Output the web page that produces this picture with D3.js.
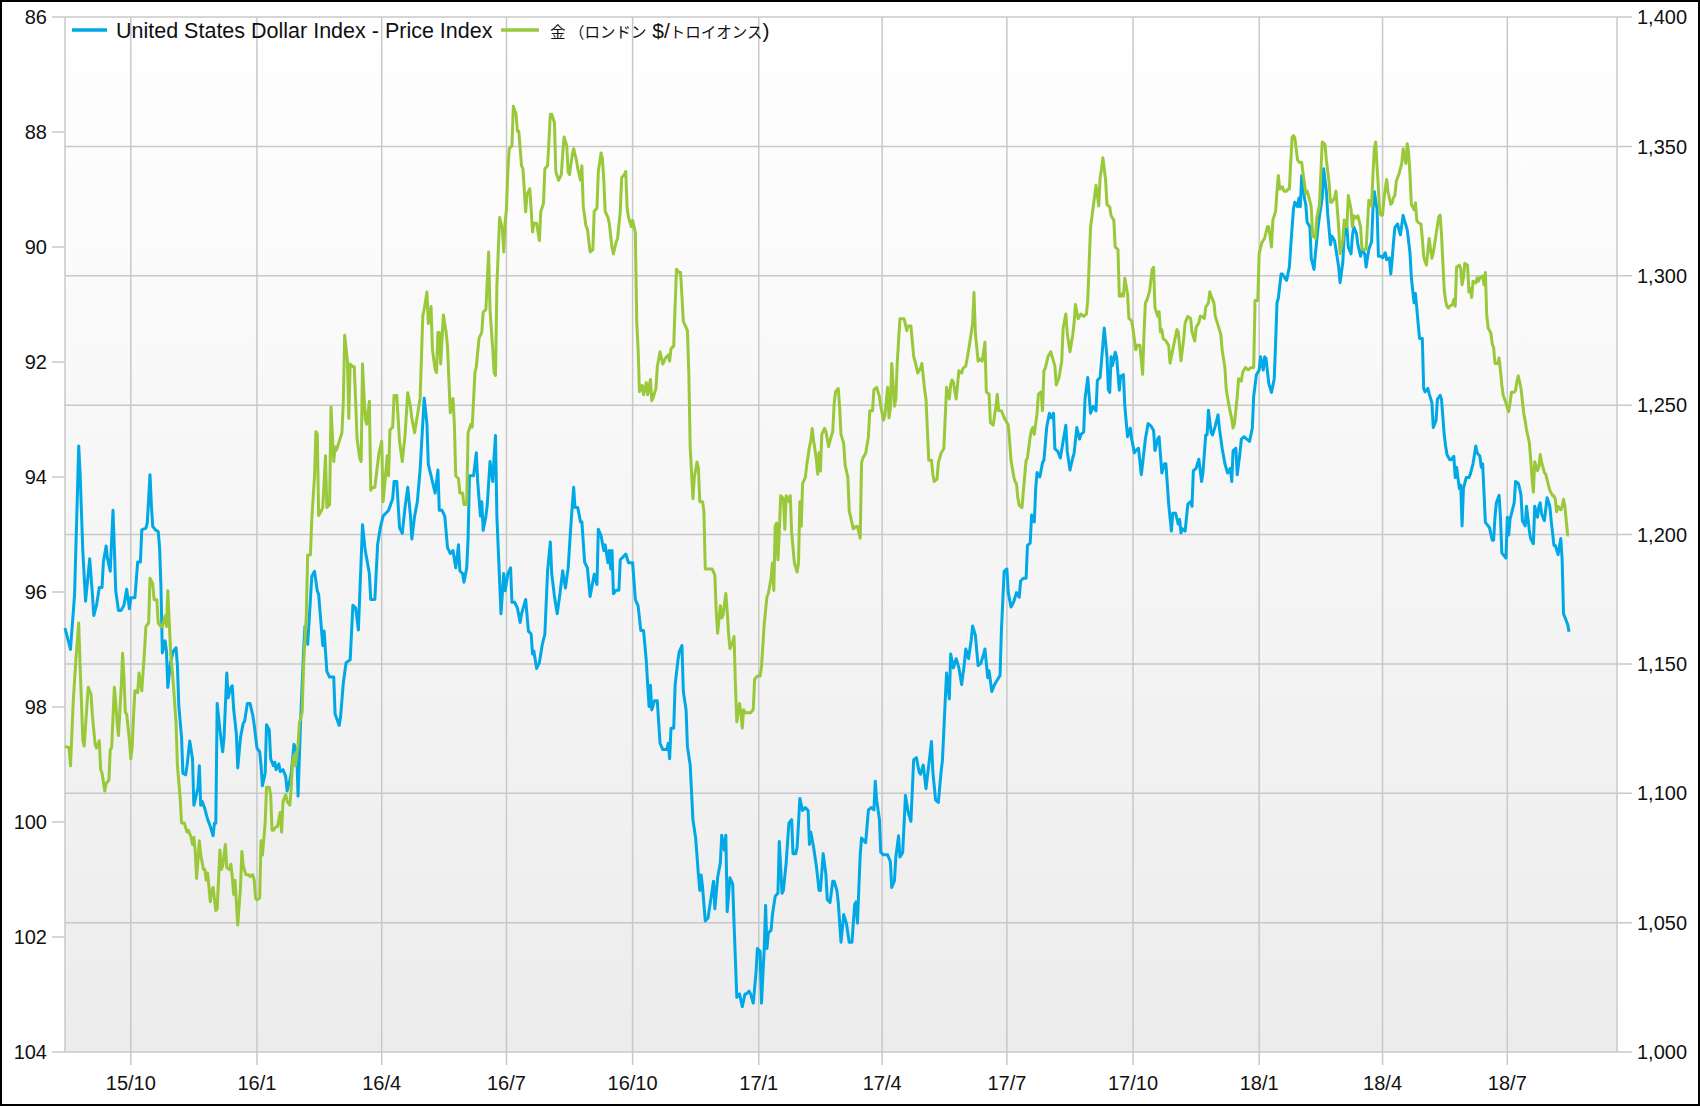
<!DOCTYPE html>
<html>
<head>
<meta charset="utf-8">
<script src="https://cdn.jsdelivr.net/npm/d3@7.9.0/dist/d3.min.js"></script>
<style>
  html, body { margin: 0; padding: 0; background: #fff; }
  svg { display: block; }
  text { font-family: "Liberation Sans", Arial, sans-serif; fill: #111; }
</style>
</head>
<body>
<svg id="chart" width="1700" height="1106"></svg>
<script>
// series names as shown in the legend
const usdName = 'United States Dollar Index - Price Index';
const goldName = ['金 （ロンドン', ' $/', 'トロイオンス', ')'];

const usdTicks = [86, 88, 90, 92, 94, 96, 98, 100, 102, 104];
const goldTicks = [1000, 1050, 1100, 1150, 1200, 1250, 1300, 1350, 1400];

// US dollar index (left axis, inverted)
const usdSeries = [
['2015-08-14',96.63],['2015-08-18',97.00],['2015-08-21',96.04],['2015-08-24',93.46],['2015-08-25',93.93],['2015-08-27',95.29],['2015-08-29',96.16],['2015-08-30',95.92],
['2015-09-01',95.42],['2015-09-03',96.04],['2015-09-04',96.41],['2015-09-06',96.23],['2015-09-08',95.92],['2015-09-10',95.92],['2015-09-11',95.48],['2015-09-13',95.20],['2015-09-14',95.42],['2015-09-16',95.64],['2015-09-18',94.58],['2015-09-19',95.23],['2015-09-20',95.98],['2015-09-22',96.32],['2015-09-24',96.32],['2015-09-26',96.23],['2015-09-28',95.95],['2015-09-30',96.29],
['2015-10-01',96.10],['2015-10-04',96.10],['2015-10-06',95.48],['2015-10-08',95.48],['2015-10-09',94.92],['2015-10-12',94.89],['2015-10-13',94.80],['2015-10-15',93.96],['2015-10-16',94.49],['2015-10-17',94.86],['2015-10-19',94.92],['2015-10-21',94.95],['2015-10-22',95.23],['2015-10-23',95.92],['2015-10-24',97.06],['2015-10-26',96.85],['2015-10-27',97.03],['2015-10-28',97.66],['2015-10-30',97.22],
['2015-11-01',97.03],['2015-11-03',96.97],['2015-11-04',97.28],['2015-11-05',97.97],['2015-11-07',98.53],['2015-11-08',99.15],['2015-11-10',99.18],['2015-11-11',99.02],['2015-11-13',98.59],['2015-11-15',98.90],['2015-11-16',99.71],['2015-11-17',99.61],['2015-11-19',99.40],['2015-11-20',99.02],['2015-11-21',99.71],['2015-11-22',99.64],['2015-11-24',99.77],['2015-11-26',99.95],['2015-11-28',100.08],['2015-11-30',100.24],
['2015-12-01',100.02],['2015-12-02',100.02],['2015-12-03',97.94],['2015-12-05',98.40],['2015-12-07',98.78],['2015-12-08',98.53],['2015-12-10',97.41],['2015-12-11',97.84],['2015-12-13',97.66],['2015-12-14',97.63],['2015-12-15',98.03],['2015-12-17',98.47],['2015-12-18',99.06],['2015-12-20',98.53],['2015-12-22',98.28],['2015-12-23',98.25],['2015-12-25',97.94],['2015-12-27',97.94],['2015-12-29',98.15],['2015-12-30',98.31],
['2016-01-01',98.71],['2016-01-03',98.78],['2016-01-04',99.02],['2016-01-05',99.37],['2016-01-07',99.15],['2016-01-08',98.31],['2016-01-10',98.40],['2016-01-11',98.90],['2016-01-13',99.02],['2016-01-14',98.96],['2016-01-15',99.09],['2016-01-17',98.99],['2016-01-18',99.12],['2016-01-20',99.09],['2016-01-22',99.21],['2016-01-23',99.46],['2016-01-25',99.27],['2016-01-26',99.15],['2016-01-28',98.65],['2016-01-30',98.78],['2016-01-31',99.55],
['2016-02-01',98.84],['2016-02-02',98.15],['2016-02-04',97.03],['2016-02-05',96.60],['2016-02-07',96.91],['2016-02-09',96.13],['2016-02-10',95.73],['2016-02-12',95.64],['2016-02-14',95.98],['2016-02-15',96.04],['2016-02-18',96.93],['2016-02-19',96.68],['2016-02-21',97.38],['2016-02-23',97.48],['2016-02-26',97.48],['2016-02-27',98.12],
['2016-03-01',98.32],['2016-03-02',98.17],['2016-03-04',97.58],['2016-03-06',97.23],['2016-03-09',97.18],['2016-03-11',96.23],['2016-03-13',96.28],['2016-03-15',96.66],['2016-03-18',94.83],['2016-03-20',95.28],['2016-03-23',95.68],['2016-03-24',96.13],['2016-03-27',96.13],['2016-03-29',95.18],['2016-03-31',94.88],
['2016-04-02',94.68],['2016-04-04',94.63],['2016-04-06',94.58],['2016-04-09',94.38],['2016-04-10',94.08],['2016-04-12',94.08],['2016-04-14',94.88],['2016-04-16',94.98],['2016-04-18',94.53],['2016-04-20',94.18],['2016-04-22',94.68],['2016-04-23',95.08],['2016-04-25',94.68],['2016-04-27',94.43],['2016-04-29',93.88],
['2016-05-02',92.63],['2016-05-04',93.08],['2016-05-05',93.78],['2016-05-08',94.08],['2016-05-10',94.28],['2016-05-12',93.88],['2016-05-13',94.58],['2016-05-15',94.58],['2016-05-17',94.68],['2016-05-19',95.23],['2016-05-21',95.33],['2016-05-23',95.28],['2016-05-25',95.58],['2016-05-27',95.18],['2016-05-28',95.63],['2016-05-30',95.68],['2016-05-31',95.83],
['2016-06-02',95.58],['2016-06-03',95.08],['2016-06-04',93.98],['2016-06-07',93.98],['2016-06-09',93.58],['2016-06-10',94.08],['2016-06-12',94.68],['2016-06-13',94.43],['2016-06-14',94.93],['2016-06-16',94.68],['2016-06-17',94.48],['2016-06-19',93.73],['2016-06-21',94.08],['2016-06-22',93.63],['2016-06-23',93.28],['2016-06-24',94.68],['2016-06-27',96.38],['2016-06-29',95.68],['2016-06-30',95.98],
['2016-07-02',95.68],['2016-07-04',95.58],['2016-07-05',96.18],['2016-07-07',96.18],['2016-07-09',96.28],['2016-07-11',96.53],['2016-07-12',96.38],['2016-07-15',96.13],['2016-07-17',96.68],['2016-07-19',96.73],['2016-07-20',97.08],['2016-07-21',97.03],['2016-07-23',97.33],['2016-07-25',97.23],['2016-07-27',96.93],['2016-07-29',96.73],['2016-07-31',95.63],
['2016-08-02',95.13],['2016-08-03',95.68],['2016-08-05',96.08],['2016-08-07',96.38],['2016-08-09',96.03],['2016-08-11',95.63],['2016-08-13',95.93],['2016-08-15',95.58],['2016-08-17',94.83],['2016-08-19',94.18],['2016-08-20',94.53],['2016-08-22',94.53],['2016-08-24',94.78],['2016-08-25',94.78],['2016-08-27',95.48],['2016-08-29',95.58],['2016-08-31',96.08],
['2016-09-03',95.69],['2016-09-05',95.87],['2016-09-06',94.91],['2016-09-08',95.02],['2016-09-10',95.28],['2016-09-11',95.18],['2016-09-13',95.49],['2016-09-14',95.28],['2016-09-15',95.60],['2016-09-16',95.28],['2016-09-17',96.03],['2016-09-19',95.97],['2016-09-21',95.97],['2016-09-22',95.44],['2016-09-24',95.39],['2016-09-26',95.34],['2016-09-28',95.49],['2016-09-30',95.49],
['2016-10-01',95.49],['2016-10-03',96.13],['2016-10-05',96.24],['2016-10-07',96.67],['2016-10-09',96.67],['2016-10-11',97.20],['2016-10-12',97.62],['2016-10-13',97.99],['2016-10-14',97.62],['2016-10-15',98.05],['2016-10-17',97.89],['2016-10-19',97.89],['2016-10-21',98.63],['2016-10-23',98.74],['2016-10-26',98.74],['2016-10-27',98.63],['2016-10-28',98.90],['2016-10-29',98.37],['2016-10-31',98.37],
['2016-11-01',97.62],['2016-11-03',97.20],['2016-11-04',97.04],['2016-11-06',96.93],['2016-11-07',97.73],['2016-11-09',98.05],['2016-11-10',98.69],['2016-11-12',99.01],['2016-11-14',99.96],['2016-11-16',100.28],['2016-11-18',100.92],['2016-11-19',101.19],['2016-11-20',100.92],['2016-11-21',101.13],['2016-11-23',101.72],['2016-11-25',101.67],['2016-11-27',101.35],['2016-11-29',101.03],['2016-11-30',101.51],
['2016-12-02',100.97],['2016-12-04',100.71],['2016-12-05',100.23],['2016-12-07',100.49],['2016-12-08',100.23],['2016-12-09',101.56],['2016-12-11',100.97],['2016-12-13',101.08],['2016-12-14',101.77],['2016-12-16',103.05],['2016-12-18',102.99],['2016-12-20',103.21],['2016-12-22',102.99],['2016-12-23',102.99],['2016-12-25',102.94],['2016-12-26',102.99],['2016-12-28',103.15],['2016-12-30',102.62],['2016-12-31',102.20],
['2017-01-02',102.25],['2017-01-03',103.15],['2017-01-05',102.20],['2017-01-06',101.45],['2017-01-07',102.20],['2017-01-08',101.93],['2017-01-10',101.88],['2017-01-11',101.61],['2017-01-13',101.29],['2017-01-15',101.24],['2017-01-16',100.34],['2017-01-18',101.24],['2017-01-19',101.19],['2017-01-21',100.71],['2017-01-23',100.02],['2017-01-25',99.96],['2017-01-26',100.55],['2017-01-28',100.55],['2017-01-29',100.44],['2017-01-30',100.02],['2017-01-31',99.59],
['2017-02-02',99.80],['2017-02-04',99.75],['2017-02-06',99.80],['2017-02-07',100.39],['2017-02-08',100.18],['2017-02-10',100.44],['2017-02-12',100.76],['2017-02-14',101.19],['2017-02-15',101.19],['2017-02-17',100.55],['2017-02-19',100.92],['2017-02-20',101.35],['2017-02-22',101.40],['2017-02-24',101.03],['2017-02-25',101.03],['2017-02-27',101.19],['2017-02-28',101.40],
['2017-03-02',102.09],['2017-03-04',101.61],['2017-03-06',101.77],['2017-03-08',102.09],['2017-03-10',102.09],['2017-03-12',101.43],['2017-03-13',101.39],['2017-03-14',101.76],['2017-03-16',100.57],['2017-03-17',100.28],['2017-03-20',100.36],['2017-03-22',99.79],['2017-03-24',99.75],['2017-03-26',99.79],['2017-03-27',99.29],['2017-03-28',99.62],['2017-03-30',99.95],['2017-03-31',100.53],
['2017-04-02',100.57],['2017-04-05',100.57],['2017-04-07',100.69],['2017-04-08',101.14],['2017-04-10',101.02],['2017-04-11',100.61],['2017-04-13',100.24],['2017-04-14',100.61],['2017-04-16',100.53],['2017-04-18',99.54],['2017-04-20',99.83],['2017-04-22',99.99],['2017-04-24',98.92],['2017-04-26',98.88],['2017-04-28',99.13],['2017-04-29',99.17],
['2017-05-01',99.01],['2017-05-03',99.42],['2017-05-05',99.01],['2017-05-07',98.60],['2017-05-08',99.13],['2017-05-10',99.62],['2017-05-12',99.66],['2017-05-14',99.13],['2017-05-15',98.92],['2017-05-17',97.90],['2017-05-18',97.41],['2017-05-20',97.86],['2017-05-21',97.08],['2017-05-23',97.32],['2017-05-25',97.16],['2017-05-27',97.32],['2017-05-29',97.61],['2017-05-31',97.24],
['2017-06-01',96.99],['2017-06-03',97.16],['2017-06-05',96.83],['2017-06-06',96.59],['2017-06-08',96.75],['2017-06-10',97.28],['2017-06-12',97.24],['2017-06-14',97.08],['2017-06-15',96.99],['2017-06-17',97.49],['2017-06-18',97.37],['2017-06-20',97.73],['2017-06-22',97.61],['2017-06-24',97.53],['2017-06-26',97.45],['2017-06-27',96.67],['2017-06-29',95.64],
['2017-07-01',95.60],['2017-07-02',96.01],['2017-07-04',96.26],['2017-07-06',96.17],['2017-07-08',96.01],['2017-07-10',96.09],['2017-07-11',95.81],['2017-07-13',95.76],['2017-07-15',95.76],['2017-07-16',95.19],['2017-07-18',95.15],['2017-07-19',94.66],['2017-07-21',94.78],['2017-07-22',94.20],['2017-07-23',93.92],['2017-07-25',94.00],['2017-07-27',93.75],['2017-07-28',93.71],['2017-07-30',93.14],
['2017-08-01',92.89],['2017-08-02',92.97],['2017-08-04',92.89],['2017-08-05',93.51],['2017-08-07',93.55],['2017-08-09',93.67],['2017-08-11',93.38],['2017-08-13',93.10],['2017-08-14',93.55],['2017-08-16',93.88],['2017-08-18',93.67],['2017-08-19',93.59],['2017-08-21',93.14],['2017-08-23',93.34],['2017-08-24',93.26],['2017-08-26',93.22],['2017-08-27',92.64],['2017-08-29',92.27],['2017-08-31',92.89],
['2017-09-02',92.77],['2017-09-04',92.85],['2017-09-05',92.32],['2017-09-07',92.27],['2017-09-10',91.41],['2017-09-12',91.91],['2017-09-13',92.48],['2017-09-14',92.53],['2017-09-15',91.91],['2017-09-16',92.06],['2017-09-18',91.83],['2017-09-19',91.91],['2017-09-21',92.49],['2017-09-22',92.25],['2017-09-24',92.22],['2017-09-25',92.76],['2017-09-27',93.30],['2017-09-29',93.15],['2017-09-30',93.34],
['2017-10-02',93.58],['2017-10-03',93.54],['2017-10-05',93.50],['2017-10-07',93.96],['2017-10-08',93.77],['2017-10-10',93.34],['2017-10-12',93.07],['2017-10-14',93.11],['2017-10-16',93.19],['2017-10-17',93.54],['2017-10-19',93.34],['2017-10-20',93.30],['2017-10-22',93.93],['2017-10-24',93.77],['2017-10-25',93.77],['2017-10-27',94.47],['2017-10-29',94.94],['2017-10-30',94.63],
['2017-11-01',94.63],['2017-11-03',94.82],['2017-11-04',94.74],['2017-11-05',94.97],['2017-11-06',94.90],['2017-11-08',94.94],['2017-11-10',94.47],['2017-11-12',94.43],['2017-11-13',94.51],['2017-11-14',93.89],['2017-11-16',93.85],['2017-11-18',93.69],['2017-11-20',94.08],['2017-11-21',93.93],['2017-11-23',93.27],['2017-11-24',93.27],['2017-11-25',92.84],['2017-11-27',93.23],['2017-11-28',93.27],['2017-11-30',93.11],
['2017-12-02',92.92],['2017-12-03',93.15],['2017-12-05',93.50],['2017-12-07',93.77],['2017-12-09',93.93],['2017-12-11',93.85],['2017-12-12',94.08],['2017-12-13',93.54],['2017-12-15',93.50],['2017-12-16',93.96],['2017-12-18',93.58],['2017-12-19',93.34],['2017-12-21',93.30],['2017-12-23',93.34],['2017-12-25',93.38],['2017-12-27',93.15],['2017-12-28',92.60],['2017-12-30',92.22],
['2018-01-01',92.14],['2018-01-02',91.91],['2018-01-04',92.14],['2018-01-05',91.91],['2018-01-06',91.94],['2018-01-08',92.37],['2018-01-10',92.53],['2018-01-12',92.29],['2018-01-13',91.67],['2018-01-14',90.97],['2018-01-15',90.89],['2018-01-17',90.47],['2018-01-18',90.47],['2018-01-20',90.55],['2018-01-21',90.58],['2018-01-23',90.35],['2018-01-24',90.00],['2018-01-26',89.34],['2018-01-27',89.22],['2018-01-29',89.30],['2018-01-30',89.15],['2018-01-31',89.30],
['2018-02-01',88.76],['2018-02-03',89.15],['2018-02-04',89.26],['2018-02-05',89.57],['2018-02-07',89.65],['2018-02-08',90.20],['2018-02-10',90.39],['2018-02-11',90.12],['2018-02-13',89.65],['2018-02-14',89.46],['2018-02-16',89.15],['2018-02-17',88.64],['2018-02-19',89.03],['2018-02-20',89.42],['2018-02-22',89.96],['2018-02-23',89.81],['2018-02-25',89.89],['2018-02-26',90.04],['2018-02-28',90.35],
['2018-03-01',90.62],['2018-03-03',90.27],['2018-03-04',89.81],['2018-03-06',89.65],['2018-03-07',90.00],['2018-03-09',90.12],['2018-03-10',89.81],['2018-03-11',89.65],['2018-03-13',89.77],['2018-03-14',89.96],['2018-03-16',90.16],['2018-03-17',90.04],['2018-03-19',90.12],['2018-03-20',90.35],['2018-03-22',90.04],['2018-03-24',89.91],['2018-03-25',89.35],['2018-03-26',89.04],['2018-03-28',89.35],['2018-03-29',90.16],['2018-03-31',90.16],
['2018-04-01',90.19],['2018-04-03',90.10],['2018-04-04',90.22],['2018-04-06',90.19],['2018-04-07',90.47],['2018-04-08',90.22],['2018-04-09',89.91],['2018-04-10',89.66],['2018-04-12',89.60],['2018-04-13',89.70],['2018-04-14',89.79],['2018-04-16',89.45],['2018-04-17',89.54],['2018-04-19',89.70],['2018-04-21',90.10],['2018-04-22',90.53],['2018-04-24',90.97],['2018-04-25',90.81],['2018-04-27',91.34],['2018-04-28',91.59],['2018-04-30',91.59],
['2018-05-01',92.46],['2018-05-02',92.52],['2018-05-04',92.46],['2018-05-05',92.55],['2018-05-07',92.71],['2018-05-08',93.14],['2018-05-10',93.02],['2018-05-11',92.65],['2018-05-13',92.58],['2018-05-14',92.65],['2018-05-16',93.27],['2018-05-17',93.46],['2018-05-18',93.61],['2018-05-20',93.70],['2018-05-21',93.70],['2018-05-23',93.64],['2018-05-24',94.01],['2018-05-25',93.83],['2018-05-27',94.20],['2018-05-28',94.14],['2018-05-29',94.85],['2018-05-30',94.20],
['2018-06-01',94.01],['2018-06-03',94.01],['2018-06-04',93.95],['2018-06-06',93.77],['2018-06-08',93.46],['2018-06-09',93.58],['2018-06-11',93.64],['2018-06-12',93.83],['2018-06-13',93.77],['2018-06-15',94.79],['2018-06-17',94.85],['2018-06-18',94.88],['2018-06-20',95.10],['2018-06-21',95.10],['2018-06-22',94.70],['2018-06-23',94.45],['2018-06-25',94.32],['2018-06-26',94.70],['2018-06-27',95.32],['2018-06-29',95.38],['2018-06-30',95.41],
['2018-07-01',94.70],['2018-07-02',95.01],['2018-07-03',94.73],['2018-07-04',94.64],['2018-07-06',94.45],['2018-07-07',94.08],['2018-07-09',94.11],['2018-07-10',94.20],['2018-07-11',94.32],['2018-07-12',94.76],['2018-07-14',94.85],['2018-07-15',94.51],['2018-07-17',94.92],['2018-07-18',95.07],['2018-07-20',95.16],['2018-07-21',94.51],['2018-07-23',94.70],['2018-07-24',94.51],['2018-07-25',94.45],['2018-07-26',94.64],['2018-07-28',94.76],['2018-07-29',94.57],['2018-07-30',94.36],
['2018-08-01',94.51],['2018-08-02',94.76],['2018-08-04',95.19],['2018-08-05',95.19],['2018-08-07',95.35],['2018-08-09',95.07],['2018-08-10',95.44],['2018-08-11',96.38],['2018-08-12',96.44],['2018-08-14',96.56],['2018-08-15',96.69]
];

// gold, London fix, USD per troy ounce (right axis)
const goldSeries = [
['2015-08-14',1118.2],['2015-08-17',1117.5],['2015-08-18',1110.6],['2015-08-20',1135.4],['2015-08-22',1152.0],['2015-08-24',1165.8],['2015-08-25',1149.3],['2015-08-26',1135.4],['2015-08-27',1120.3],['2015-08-28',1118.2],['2015-08-30',1134.1],['2015-08-31',1141.0],
['2015-09-02',1138.2],['2015-09-03',1129.9],['2015-09-05',1118.9],['2015-09-06',1117.5],['2015-09-08',1120.3],['2015-09-09',1109.2],['2015-09-10',1107.8],['2015-09-12',1100.9],['2015-09-13',1103.7],['2015-09-15',1105.1],['2015-09-16',1116.8],['2015-09-17',1117.5],['2015-09-19',1141.0],['2015-09-20',1135.4],['2015-09-21',1127.2],['2015-09-22',1122.3],['2015-09-24',1141.0],['2015-09-25',1154.1],['2015-09-26',1145.1],['2015-09-27',1131.3],['2015-09-28',1130.6],['2015-09-30',1120.3],
['2015-10-01',1113.3],['2015-10-02',1118.2],['2015-10-03',1129.9],['2015-10-04',1139.6],['2015-10-06',1138.9],['2015-10-07',1146.5],['2015-10-08',1143.0],['2015-10-09',1139.6],['2015-10-11',1154.8],['2015-10-12',1164.4],['2015-10-14',1165.8],['2015-10-15',1183.1],['2015-10-17',1181.0],['2015-10-18',1174.8],['2015-10-20',1174.8],['2015-10-21',1165.8],['2015-10-23',1164.4],['2015-10-24',1164.4],['2015-10-26',1168.6],['2015-10-27',1164.4],['2015-10-28',1178.3],['2015-10-30',1154.8],
['2015-11-01',1142.4],['2015-11-03',1127.2],['2015-11-04',1110.6],['2015-11-06',1098.2],['2015-11-07',1088.5],['2015-11-09',1088.5],['2015-11-11',1085.0],['2015-11-12',1085.7],['2015-11-14',1083.0],['2015-11-15',1080.2],['2015-11-16',1083.0],['2015-11-17',1077.5],['2015-11-18',1067.1],['2015-11-20',1081.6],['2015-11-21',1076.1],['2015-11-23',1070.5],['2015-11-24',1070.5],['2015-11-25',1066.4],['2015-11-26',1069.2],['2015-11-28',1058.1],['2015-11-29',1062.3],['2015-11-30',1063.6],
['2015-12-02',1054.7],['2015-12-03',1055.3],['2015-12-05',1078.1],['2015-12-06',1070.5],['2015-12-07',1071.9],['2015-12-09',1080.2],['2015-12-10',1071.2],['2015-12-12',1070.5],['2015-12-13',1072.6],['2015-12-14',1067.8],['2015-12-15',1060.9],['2015-12-16',1066.4],['2015-12-18',1049.1],['2015-12-20',1063.6],['2015-12-21',1077.5],['2015-12-22',1071.9],['2015-12-24',1068.5],['2015-12-26',1068.5],['2015-12-27',1067.8],['2015-12-29',1068.5],['2015-12-30',1066.4],['2015-12-31',1059.5],
['2016-01-01',1058.8],['2016-01-03',1059.5],['2016-01-04',1081.6],['2016-01-05',1076.1],['2016-01-07',1088.5],['2016-01-08',1102.3],['2016-01-10',1102.3],['2016-01-11',1099.5],['2016-01-12',1085.7],['2016-01-13',1085.7],['2016-01-15',1087.1],['2016-01-16',1087.1],['2016-01-18',1092.6],['2016-01-19',1085.0],['2016-01-20',1096.8],['2016-01-22',1099.5],['2016-01-23',1096.8],['2016-01-25',1095.4],['2016-01-26',1102.3],['2016-01-27',1112.0],['2016-01-28',1114.7],['2016-01-29',1110.6],['2016-01-31',1118.9],
['2016-02-01',1127.2],['2016-02-03',1131.3],['2016-02-04',1149.3],['2016-02-06',1168.6],['2016-02-07',1192.1],['2016-02-09',1192.1],['2016-02-10',1205.9],['2016-02-12',1222.5],['2016-02-13',1239.7],['2016-02-14',1239.0],['2016-02-15',1207.3],['2016-02-17',1209.3],['2016-02-18',1210.4],['2016-02-20',1230.4],['2016-02-21',1210.4],['2016-02-23',1211.6],['2016-02-24',1249.3],['2016-02-26',1228.2],['2016-02-27',1233.8],['2016-02-28',1232.6],
['2016-03-01',1236.0],['2016-03-03',1239.3],['2016-03-04',1251.5],['2016-03-05',1277.0],['2016-03-07',1267.0],['2016-03-08',1244.8],['2016-03-09',1265.9],['2016-03-11',1264.8],['2016-03-12',1264.8],['2016-03-13',1251.5],['2016-03-14',1237.1],['2016-03-16',1229.3],['2016-03-17',1228.2],['2016-03-18',1265.9],['2016-03-19',1254.8],['2016-03-20',1244.8],['2016-03-21',1242.6],['2016-03-23',1251.5],['2016-03-24',1217.1],['2016-03-25',1218.2],['2016-03-27',1218.2],['2016-03-28',1222.7],['2016-03-30',1231.5],
['2016-04-01',1236.0],['2016-04-02',1212.7],['2016-04-03',1218.2],['2016-04-05',1230.4],['2016-04-06',1222.7],['2016-04-07',1240.4],['2016-04-09',1241.5],['2016-04-10',1253.7],['2016-04-12',1253.7],['2016-04-14',1236.0],['2016-04-16',1228.2],['2016-04-18',1238.2],['2016-04-20',1254.8],['2016-04-22',1249.3],['2016-04-23',1244.8],['2016-04-25',1239.3],['2016-04-27',1245.9],['2016-04-29',1252.6],
['2016-05-01',1284.8],['2016-05-02',1287.0],['2016-05-04',1293.7],['2016-05-05',1281.5],['2016-05-07',1288.1],['2016-05-08',1271.5],['2016-05-10',1263.7],['2016-05-11',1262.6],['2016-05-12',1278.1],['2016-05-13',1278.1],['2016-05-14',1265.9],['2016-05-16',1284.8],['2016-05-18',1278.1],['2016-05-19',1272.6],['2016-05-21',1247.1],['2016-05-23',1252.6],['2016-05-24',1242.6],['2016-05-25',1222.7],['2016-05-27',1221.5],['2016-05-28',1216.0],['2016-05-30',1216.0],['2016-05-31',1211.6],
['2016-06-02',1211.6],['2016-06-03',1239.3],['2016-06-05',1242.6],['2016-06-06',1241.5],['2016-06-08',1262.6],['2016-06-09',1264.8],['2016-06-11',1275.9],['2016-06-13',1278.1],['2016-06-14',1285.9],['2016-06-16',1287.0],['2016-06-18',1309.2],['2016-06-19',1287.0],['2016-06-21',1271.5],['2016-06-22',1262.6],['2016-06-23',1261.5],['2016-06-24',1295.9],['2016-06-26',1322.5],['2016-06-28',1318.1],['2016-06-29',1309.2],['2016-06-30',1320.3],
['2016-07-01',1325.8],['2016-07-02',1340.2],['2016-07-03',1349.1],['2016-07-05',1350.2],['2016-07-06',1365.5],['2016-07-08',1362.4],['2016-07-09',1355.8],['2016-07-10',1355.8],['2016-07-12',1342.5],['2016-07-13',1341.4],['2016-07-15',1324.7],['2016-07-16',1331.4],['2016-07-18',1333.6],['2016-07-19',1325.8],['2016-07-20',1316.9],['2016-07-21',1320.3],['2016-07-23',1320.3],['2016-07-25',1313.6],['2016-07-26',1324.7],['2016-07-28',1328.0],['2016-07-29',1341.4],['2016-07-31',1342.5],
['2016-08-02',1362.4],['2016-08-03',1362.4],['2016-08-05',1359.1],['2016-08-06',1340.2],['2016-08-08',1336.9],['2016-08-10',1339.1],['2016-08-11',1346.9],['2016-08-12',1353.6],['2016-08-14',1350.2],['2016-08-15',1340.2],['2016-08-16',1339.1],['2016-08-18',1346.9],['2016-08-19',1349.1],['2016-08-21',1344.7],['2016-08-22',1341.4],['2016-08-24',1336.9],['2016-08-25',1342.5],['2016-08-26',1326.9],['2016-08-28',1319.2],['2016-08-29',1318.1],['2016-08-31',1309.2],
['2016-09-02',1310.0],['2016-09-03',1324.9],['2016-09-05',1326.1],['2016-09-06',1340.3],['2016-09-08',1347.4],['2016-09-09',1345.0],['2016-09-10',1336.8],['2016-09-11',1324.9],['2016-09-13',1322.6],['2016-09-14',1320.2],['2016-09-16',1310.8],['2016-09-17',1308.4],['2016-09-19',1313.1],['2016-09-20',1314.3],['2016-09-22',1324.9],['2016-09-23',1337.9],['2016-09-25',1339.1],['2016-09-26',1340.3],['2016-09-27',1326.1],['2016-09-28',1322.6],['2016-09-30',1319.0],
['2016-10-01',1321.4],['2016-10-03',1316.7],['2016-10-04',1282.4],['2016-10-05',1271.8],['2016-10-06',1255.2],['2016-10-08',1257.6],['2016-10-09',1254.0],['2016-10-11',1258.7],['2016-10-12',1254.0],['2016-10-14',1259.9],['2016-10-15',1251.7],['2016-10-16',1252.9],['2016-10-18',1256.4],['2016-10-19',1264.7],['2016-10-21',1270.6],['2016-10-23',1265.9],['2016-10-24',1267.0],['2016-10-25',1268.2],['2016-10-27',1269.4],['2016-10-28',1267.0],['2016-10-29',1271.8],['2016-10-31',1272.9],
['2016-11-01',1288.3],['2016-11-02',1302.5],['2016-11-04',1301.3],['2016-11-05',1301.3],['2016-11-07',1282.4],['2016-11-08',1281.2],['2016-11-10',1278.8],['2016-11-11',1262.3],['2016-11-12',1233.9],['2016-11-14',1213.8],['2016-11-15',1222.1],['2016-11-17',1228.0],['2016-11-18',1225.7],['2016-11-19',1212.7],['2016-11-21',1212.7],['2016-11-22',1209.1],['2016-11-23',1186.7],['2016-11-26',1186.7],['2016-11-28',1186.7],['2016-11-30',1184.3],
['2016-12-01',1170.1],['2016-12-02',1161.8],['2016-12-04',1172.5],['2016-12-05',1167.7],['2016-12-06',1168.9],['2016-12-08',1177.2],['2016-12-09',1170.1],['2016-12-10',1161.8],['2016-12-11',1155.9],['2016-12-13',1158.3],['2016-12-14',1160.6],['2016-12-15',1141.8],['2016-12-16',1127.6],['2016-12-18',1134.7],['2016-12-19',1131.1],['2016-12-20',1125.2],['2016-12-21',1132.3],['2016-12-22',1131.1],['2016-12-24',1131.1],['2016-12-26',1131.1],['2016-12-28',1132.3],['2016-12-29',1144.1],['2016-12-31',1145.3],
['2017-01-02',1145.3],['2017-01-03',1148.8],['2017-01-05',1165.4],['2017-01-07',1176.0],['2017-01-08',1177.2],['2017-01-10',1183.1],['2017-01-11',1189.0],['2017-01-12',1178.4],['2017-01-13',1203.2],['2017-01-14',1204.4],['2017-01-15',1190.2],['2017-01-16',1200.8],['2017-01-17',1215.0],['2017-01-19',1213.8],['2017-01-20',1202.0],['2017-01-21',1215.0],['2017-01-23',1212.7],['2017-01-24',1215.0],['2017-01-25',1200.8],['2017-01-27',1189.0],['2017-01-29',1185.5],['2017-01-30',1189.0],['2017-01-31',1212.7],
['2017-02-01',1203.2],['2017-02-02',1219.8],['2017-02-04',1222.1],['2017-02-05',1226.8],['2017-02-07',1233.9],['2017-02-08',1236.3],['2017-02-09',1241.0],['2017-02-10',1236.3],['2017-02-12',1229.2],['2017-02-13',1223.3],['2017-02-14',1231.6],['2017-02-15',1224.5],['2017-02-16',1238.7],['2017-02-18',1241.0],['2017-02-19',1239.8],['2017-02-21',1233.9],['2017-02-22',1236.3],['2017-02-24',1239.8],['2017-02-25',1250.5],['2017-02-26',1255.2],['2017-02-28',1256.4],
['2017-03-01',1249.3],['2017-03-02',1238.7],['2017-03-04',1235.1],['2017-03-05',1226.8],['2017-03-07',1222.1],['2017-03-08',1209.1],['2017-03-09',1206.8],['2017-03-11',1202.2],['2017-03-13',1203.1],['2017-03-14',1203.1],['2017-03-16',1198.6],['2017-03-17',1227.7],['2017-03-18',1229.6],['2017-03-20',1231.4],['2017-03-22',1237.8],['2017-03-23',1247.8],['2017-03-25',1247.8],['2017-03-26',1256.0],['2017-03-28',1256.9],['2017-03-30',1253.3],['2017-03-31',1249.6],
['2017-04-02',1244.2],['2017-04-03',1246.0],['2017-04-05',1256.9],['2017-04-06',1245.1],['2017-04-07',1248.7],['2017-04-08',1266.1],['2017-04-10',1249.6],['2017-04-11',1252.4],['2017-04-12',1266.1],['2017-04-14',1283.4],['2017-04-16',1283.4],['2017-04-17',1283.4],['2017-04-19',1278.8],['2017-04-20',1280.6],['2017-04-22',1280.6],['2017-04-24',1268.8],['2017-04-25',1267.0],['2017-04-27',1262.4],['2017-04-29',1264.2],['2017-04-30',1266.1],
['2017-05-02',1256.0],['2017-05-03',1252.4],['2017-05-05',1228.7],['2017-05-07',1228.7],['2017-05-08',1223.2],['2017-05-09',1220.5],['2017-05-11',1221.4],['2017-05-12',1227.7],['2017-05-14',1231.4],['2017-05-16',1233.2],['2017-05-18',1256.9],['2017-05-20',1252.4],['2017-05-21',1257.8],['2017-05-22',1259.7],['2017-05-23',1258.8],['2017-05-25',1252.4],['2017-05-27',1263.3],['2017-05-29',1262.4],['2017-05-30',1264.2],
['2017-06-01',1265.1],['2017-06-02',1267.9],['2017-06-04',1274.3],['2017-06-06',1281.6],['2017-06-07',1293.5],['2017-06-08',1277.9],['2017-06-10',1267.0],['2017-06-11',1267.9],['2017-06-13',1267.0],['2017-06-15',1274.3],['2017-06-16',1255.1],['2017-06-18',1254.2],['2017-06-19',1243.3],['2017-06-21',1242.3],['2017-06-23',1249.6],['2017-06-24',1254.2],['2017-06-25',1247.8],['2017-06-27',1247.8],['2017-06-29',1245.1],['2017-06-30',1244.2],
['2017-07-02',1242.3],['2017-07-03',1236.0],['2017-07-04',1228.7],['2017-07-06',1222.3],['2017-07-07',1220.5],['2017-07-08',1219.5],['2017-07-09',1214.1],['2017-07-10',1211.3],['2017-07-12',1210.4],['2017-07-13',1216.8],['2017-07-15',1228.7],['2017-07-16',1229.6],['2017-07-18',1237.8],['2017-07-19',1240.5],['2017-07-20',1241.4],['2017-07-21',1238.7],['2017-07-23',1246.9],['2017-07-24',1254.2],['2017-07-26',1255.1],['2017-07-27',1247.8],['2017-07-28',1263.3],['2017-07-29',1264.2],['2017-07-31',1268.8],
['2017-08-02',1270.6],['2017-08-03',1268.8],['2017-08-05',1265.1],['2017-08-06',1257.8],['2017-08-08',1260.6],['2017-08-10',1267.0],['2017-08-11',1279.7],['2017-08-13',1285.2],['2017-08-14',1277.9],['2017-08-16',1270.6],['2017-08-18',1277.0],['2017-08-19',1281.6],['2017-08-20',1288.9],['2017-08-22',1283.4],['2017-08-24',1285.2],['2017-08-26',1284.3],['2017-08-28',1285.2],['2017-08-29',1290.7],['2017-08-31',1318.6],
['2017-09-04',1335.0],['2017-09-06',1327.0],['2017-09-07',1337.9],['2017-09-08',1341.3],['2017-09-09',1345.6],['2017-09-11',1337.0],['2017-09-12',1327.5],['2017-09-14',1326.6],['2017-09-15',1323.2],['2017-09-17',1321.5],['2017-09-18',1311.1],['2017-09-20',1310.2],['2017-09-21',1292.1],['2017-09-22',1292.1],['2017-09-23',1293.0],['2017-09-24',1292.1],['2017-09-25',1299.0],['2017-09-27',1293.0],['2017-09-28',1283.5],['2017-09-30',1282.6],
['2017-10-01',1279.2],['2017-10-03',1271.4],['2017-10-04',1273.1],['2017-10-06',1273.1],['2017-10-08',1261.9],['2017-10-09',1277.4],['2017-10-10',1289.5],['2017-10-11',1290.4],['2017-10-13',1293.8],['2017-10-15',1302.5],['2017-10-16',1303.3],['2017-10-17',1287.8],['2017-10-19',1284.3],['2017-10-20',1286.1],['2017-10-21',1278.3],['2017-10-22',1279.2],['2017-10-23',1275.7],['2017-10-25',1274.8],['2017-10-27',1273.1],['2017-10-28',1266.2],['2017-10-30',1271.4],['2017-10-31',1274.0],
['2017-11-02',1279.2],['2017-11-03',1278.3],['2017-11-05',1267.1],['2017-11-07',1275.7],['2017-11-08',1281.8],['2017-11-10',1284.3],['2017-11-12',1283.5],['2017-11-13',1278.3],['2017-11-15',1274.8],['2017-11-16',1280.0],['2017-11-18',1281.8],['2017-11-19',1284.3],['2017-11-20',1284.3],['2017-11-22',1283.5],['2017-11-23',1287.8],['2017-11-25',1289.5],['2017-11-26',1293.8],['2017-11-27',1292.1],['2017-11-29',1289.5],['2017-11-30',1284.3],
['2017-12-02',1280.9],['2017-12-04',1277.4],['2017-12-05',1271.4],['2017-12-07',1264.5],['2017-12-08',1255.9],['2017-12-10',1249.8],['2017-12-12',1244.6],['2017-12-13',1241.2],['2017-12-14',1242.9],['2017-12-16',1253.3],['2017-12-17',1260.2],['2017-12-19',1259.3],['2017-12-20',1262.8],['2017-12-22',1264.5],['2017-12-24',1263.6],['2017-12-26',1264.5],['2017-12-28',1264.5],['2017-12-29',1290.4],['2017-12-31',1290.4],
['2018-01-01',1308.5],['2018-01-03',1312.8],['2018-01-05',1314.5],['2018-01-07',1318.9],['2018-01-08',1318.9],['2018-01-10',1311.1],['2018-01-11',1321.5],['2018-01-13',1324.9],['2018-01-14',1332.7],['2018-01-15',1338.7],['2018-01-16',1333.5],['2018-01-18',1334.4],['2018-01-19',1332.7],['2018-01-21',1332.7],['2018-01-22',1333.5],['2018-01-23',1333.5],['2018-01-25',1353.4],['2018-01-26',1354.2],['2018-01-27',1353.4],['2018-01-29',1344.8],['2018-01-30',1343.9],
['2018-02-01',1343.9],['2018-02-02',1339.6],['2018-02-04',1331.8],['2018-02-05',1332.7],['2018-02-06',1330.9],['2018-02-08',1326.6],['2018-02-09',1315.4],['2018-02-11',1314.5],['2018-02-12',1322.3],['2018-02-14',1327.5],['2018-02-15',1339.6],['2018-02-16',1351.7],['2018-02-18',1350.8],['2018-02-19',1344.8],['2018-02-21',1336.1],['2018-02-22',1328.4],['2018-02-23',1328.4],['2018-02-25',1330.1],['2018-02-26',1332.7],['2018-02-28',1318.9],
['2018-03-01',1308.5],['2018-03-03',1313.7],['2018-03-04',1321.5],['2018-03-06',1318.9],['2018-03-07',1331.0],['2018-03-09',1325.8],['2018-03-10',1318.9],['2018-03-11',1323.2],['2018-03-13',1322.3],['2018-03-14',1323.2],['2018-03-16',1318.9],['2018-03-17',1310.2],['2018-03-19',1310.2],['2018-03-20',1310.2],['2018-03-22',1329.2],['2018-03-24',1326.9],['2018-03-25',1339.3],['2018-03-26',1349.0],['2018-03-27',1351.7],['2018-03-28',1342.1],['2018-03-29',1333.8],['2018-03-30',1324.1],['2018-03-31',1323.4],
['2018-04-01',1323.4],['2018-04-02',1329.6],['2018-04-03',1333.8],['2018-04-04',1337.2],['2018-04-05',1332.4],['2018-04-07',1327.6],['2018-04-08',1328.2],['2018-04-09',1330.3],['2018-04-10',1331.0],['2018-04-11',1336.5],['2018-04-13',1339.3],['2018-04-14',1341.4],['2018-04-15',1343.4],['2018-04-16',1349.0],['2018-04-18',1343.4],['2018-04-19',1351.0],['2018-04-20',1347.6],['2018-04-21',1339.3],['2018-04-22',1327.6],['2018-04-24',1325.5],['2018-04-25',1328.2],['2018-04-26',1321.3],['2018-04-27',1320.6],['2018-04-29',1320.0],['2018-04-30',1314.4],
['2018-05-01',1307.5],['2018-05-02',1305.5],['2018-05-03',1304.1],['2018-05-05',1314.4],['2018-05-06',1310.3],['2018-05-07',1306.8],['2018-05-08',1308.9],['2018-05-10',1315.8],['2018-05-11',1319.3],['2018-05-12',1322.7],['2018-05-13',1323.4],['2018-05-14',1315.8],['2018-05-16',1294.4],['2018-05-17',1290.3],['2018-05-18',1288.2],['2018-05-19',1287.5],['2018-05-20',1288.2],['2018-05-22',1288.9],['2018-05-23',1290.9],['2018-05-24',1288.2],['2018-05-25',1303.4],['2018-05-27',1304.1],['2018-05-28',1302.7],['2018-05-29',1296.5],['2018-05-30',1299.2],['2018-05-31',1304.8],
['2018-06-02',1304.1],['2018-06-03',1293.7],['2018-06-04',1295.1],['2018-06-05',1291.6],['2018-06-06',1297.9],['2018-06-08',1297.2],['2018-06-09',1299.2],['2018-06-10',1297.9],['2018-06-11',1299.2],['2018-06-13',1299.9],['2018-06-14',1296.5],['2018-06-15',1301.3],['2018-06-16',1284.7],['2018-06-17',1279.9],['2018-06-19',1277.8],['2018-06-20',1273.7],['2018-06-21',1272.3],['2018-06-22',1266.1],['2018-06-24',1266.1],['2018-06-25',1268.2],['2018-06-26',1263.3],['2018-06-27',1257.8],['2018-06-28',1253.7],['2018-06-30',1250.9],
['2018-07-01',1248.8],['2018-07-02',1247.5],['2018-07-03',1250.9],['2018-07-04',1255.0],['2018-07-06',1255.0],['2018-07-07',1255.7],['2018-07-08',1259.2],['2018-07-09',1261.3],['2018-07-11',1256.4],['2018-07-12',1251.6],['2018-07-13',1246.8],['2018-07-14',1244.0],['2018-07-15',1240.5],['2018-07-17',1235.7],['2018-07-18',1229.5],['2018-07-19',1221.9],['2018-07-20',1216.4],['2018-07-21',1228.1],['2018-07-23',1224.7],['2018-07-24',1226.0],['2018-07-25',1230.9],['2018-07-26',1228.1],['2018-07-28',1224.0],['2018-07-29',1223.3],['2018-07-30',1221.2],['2018-07-31',1219.1],
['2018-08-01',1217.1],['2018-08-03',1215.0],['2018-08-04',1215.0],['2018-08-05',1213.6],['2018-08-06',1208.8],['2018-08-07',1210.8],['2018-08-09',1209.5],['2018-08-10',1210.8],['2018-08-11',1213.6],['2018-08-12',1210.8],['2018-08-14',1199.8],['2018-08-15',1199.8]
];

const usdColor = '#00a8e6';
const goldColor = '#99c93a';

const svg = d3.select('#chart');
const W = 1700, H = 1106;
const plot = { left: 65, right: 1617, top: 17, bottom: 1052 };

const parseDate = d3.timeParse('%Y-%m-%d');
const usdData = usdSeries.map(([d, v]) => ({ date: parseDate(d), value: v }));
const goldData = goldSeries.map(([d, v]) => ({ date: parseDate(d), value: v }));

const x = d3.scaleTime()
  .domain([parseDate('2015-08-14'), parseDate('2018-09-19')])
  .range([plot.left, plot.right]);
const yUsd = d3.scaleLinear().domain([86, 104]).range([plot.top, plot.bottom]);
const yGold = d3.scaleLinear().domain([1000, 1400]).range([plot.bottom, plot.top]);

// background gradient
const grad = svg.append('defs').append('linearGradient')
  .attr('id', 'bg').attr('x1', 0).attr('y1', 0).attr('x2', 0).attr('y2', 1);
grad.append('stop').attr('offset', '0%').attr('stop-color', '#ffffff');
grad.append('stop').attr('offset', '100%').attr('stop-color', '#ececec');

svg.append('rect').attr('width', W).attr('height', H).attr('fill', '#fff');
svg.append('rect')
  .attr('x', plot.left).attr('y', plot.top)
  .attr('width', plot.right - plot.left).attr('height', plot.bottom - plot.top)
  .attr('fill', 'url(#bg)');

const gridColor = '#c8c8c8';

// horizontal grid follows the gold axis
svg.append('g').selectAll('line').data(goldTicks).join('line')
  .attr('x1', plot.left).attr('x2', plot.right + 15)
  .attr('y1', d => yGold(d)).attr('y2', d => yGold(d))
  .attr('stroke', gridColor).attr('stroke-width', 1.5);

// vertical grid at quarter months
const xTicks = x.ticks(d3.timeMonth.every(3));
svg.append('g').selectAll('line').data(xTicks).join('line')
  .attr('x1', d => x(d)).attr('x2', d => x(d))
  .attr('y1', plot.top).attr('y2', plot.bottom + 13)
  .attr('stroke', gridColor).attr('stroke-width', 1.5);

// frame sides
svg.append('line').attr('x1', plot.left).attr('x2', plot.left)
  .attr('y1', plot.top).attr('y2', plot.bottom)
  .attr('stroke', gridColor).attr('stroke-width', 1.5);
svg.append('line').attr('x1', plot.right).attr('x2', plot.right)
  .attr('y1', plot.top).attr('y2', plot.bottom)
  .attr('stroke', gridColor).attr('stroke-width', 1.5);

// left axis ticks and labels
svg.append('g').selectAll('line').data(usdTicks).join('line')
  .attr('x1', plot.left - 13).attr('x2', plot.left)
  .attr('y1', d => yUsd(d)).attr('y2', d => yUsd(d))
  .attr('stroke', gridColor).attr('stroke-width', 1.5);
svg.append('g').selectAll('text').data(usdTicks).join('text')
  .attr('x', plot.left - 18).attr('y', d => yUsd(d)).attr('dy', '0.36em')
  .attr('text-anchor', 'end').attr('font-size', 20)
  .text(d => d);

// right axis labels
svg.append('g').selectAll('text').data(goldTicks).join('text')
  .attr('x', plot.right + 20).attr('y', d => yGold(d)).attr('dy', '0.36em')
  .attr('text-anchor', 'start').attr('font-size', 20)
  .text(d => d3.format(',')(d));

// bottom labels
svg.append('g').selectAll('text').data(xTicks).join('text')
  .attr('x', d => x(d)).attr('y', 1090)
  .attr('text-anchor', 'middle').attr('font-size', 20)
  .text(d => d3.timeFormat('%y/%-m')(d));

// lines
const usdLine = d3.line().x(d => x(d.date)).y(d => yUsd(d.value));
const goldLine = d3.line().x(d => x(d.date)).y(d => yGold(d.value));

svg.append('path').datum(usdData)
  .attr('d', usdLine).attr('fill', 'none')
  .attr('stroke', usdColor).attr('stroke-width', 3)
  .attr('stroke-linejoin', 'round');
svg.append('path').datum(goldData)
  .attr('d', goldLine).attr('fill', 'none')
  .attr('stroke', goldColor).attr('stroke-width', 3)
  .attr('stroke-linejoin', 'round');

// legend
const legend = svg.append('g');
legend.append('line').attr('x1', 72).attr('x2', 107).attr('y1', 30).attr('y2', 30)
  .attr('stroke', usdColor).attr('stroke-width', 3.5);
legend.append('text').attr('x', 116).attr('y', 37.5).attr('font-size', 21.5).text(usdName);
legend.append('line').attr('x1', 501).attr('x2', 539).attr('y1', 30).attr('y2', 30)
  .attr('stroke', goldColor).attr('stroke-width', 3.5);
const gt = legend.append('text').attr('x', 550).attr('y', 37.5);
goldName.forEach((part, i) => {
  const cjk = i % 2 === 0;
  gt.append('tspan')
    .attr('font-family', cjk ? '"Noto Sans CJK JP", sans-serif' : '"Liberation Sans", Arial, sans-serif')
    .attr('font-size', cjk ? 15.5 : 21)
    .text(part);
});

// outer border
svg.append('rect').attr('x', 1).attr('y', 1).attr('width', W - 2).attr('height', H - 2)
  .attr('fill', 'none').attr('stroke', '#000').attr('stroke-width', 2);
</script>
</body>
</html>
